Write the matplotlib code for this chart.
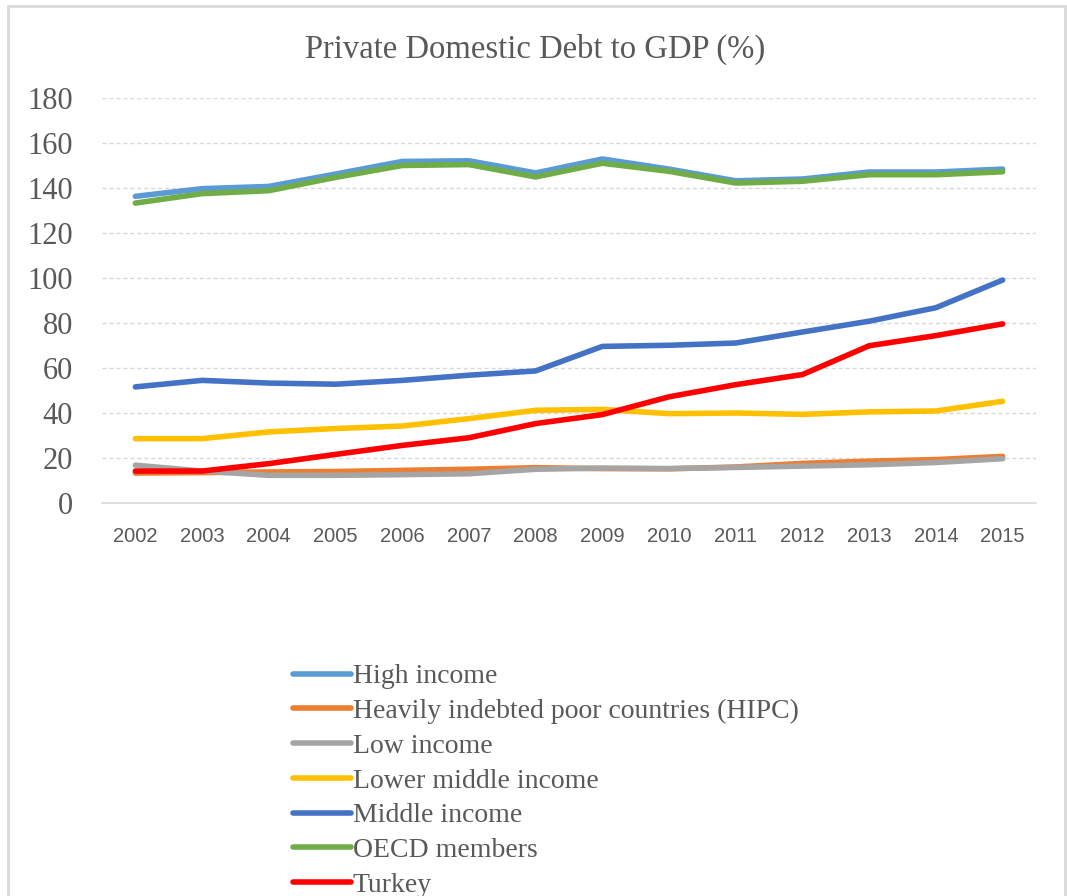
import matplotlib
matplotlib.use("Agg")
import matplotlib.pyplot as plt
import matplotlib.patches as mpatches

years = [str(y) for y in range(2002, 2016)]

high_income = [136.3, 139.7, 140.7, 146.2, 151.8, 152.1, 146.7, 152.9, 148.4, 143.2, 144.0, 147.1, 147.1, 148.4]
hipc        = [13.3, 13.5, 13.8, 14.0, 14.5, 15.0, 15.7, 15.3, 15.2, 16.0, 17.6, 18.6, 19.3, 20.7]
low_income  = [16.8, 14.2, 12.3, 12.3, 12.6, 13.0, 15.0, 15.5, 15.3, 15.8, 16.4, 17.0, 18.0, 19.7]
lower_mid   = [28.6, 28.6, 31.6, 33.1, 34.2, 37.5, 41.2, 41.6, 39.7, 40.0, 39.4, 40.5, 40.9, 45.2]
middle      = [51.6, 54.5, 53.3, 52.8, 54.5, 56.8, 58.7, 69.6, 70.1, 71.1, 76.0, 80.8, 86.8, 99.1]
oecd        = [133.3, 137.5, 138.8, 144.7, 150.0, 150.4, 144.9, 151.0, 147.4, 142.2, 143.0, 145.9, 145.9, 147.2]
turkey      = [14.2, 14.2, 17.5, 21.6, 25.6, 29.0, 35.3, 39.3, 47.2, 52.6, 57.1, 69.9, 74.4, 79.6]

series = [
    ("High income", high_income, "#5B9BD5"),
    ("Heavily indebted poor countries (HIPC)", hipc, "#ED7D31"),
    ("Low income", low_income, "#A5A5A5"),
    ("Lower middle income", lower_mid, "#FFC000"),
    ("Middle income", middle, "#4472C4"),
    ("OECD members", oecd, "#70AD47"),
    ("Turkey", turkey, "#FF0000"),
]

TXT = "#595959"
GRID = "#d9d9d9"
SERIF = "Liberation Serif"

W, H = 1067, 896
fig = plt.figure(figsize=(W / 100, H / 100), dpi=100)

# outer chart frame
fig.patches.append(mpatches.Rectangle((8 / W, -0.05), (1065 - 8) / W, 1.05 - 6 / H,
                                      transform=fig.transFigure, fill=False,
                                      edgecolor=GRID, linewidth=2))

ax = fig.add_axes([102 / W, 1 - 503 / H, (1036 - 102) / W, (503 - 98) / H])

x = list(range(len(years)))
for name, vals, col in series:
    ax.plot(x, vals, color=col, linewidth=4, label=name, solid_capstyle="round")

ax.set_xlim(-0.5, len(years) - 0.5)
ax.set_ylim(0, 180)
ax.set_yticks(range(0, 181, 20))
ax.set_xticks(x)
ax.set_xticklabels(years, fontfamily="Liberation Sans", fontsize=14.5, color=TXT)
for lab in ax.get_yticklabels():
    lab.set_fontfamily(SERIF)
    lab.set_fontsize(22)
    lab.set_color(TXT)
ax.tick_params(axis="y", length=0, pad=21)
ax.tick_params(axis="x", length=0, pad=17)

ax.grid(True, axis="y", color=GRID, linestyle=(0, (3, 2)), linewidth=1)
ax.set_axisbelow(True)
for s in ["top", "right", "left"]:
    ax.spines[s].set_visible(False)
ax.spines["bottom"].set_color(GRID)
ax.spines["bottom"].set_linewidth(1.2)

fig.text(535 / W, 1 - 49 / H, "Private Domestic Debt to GDP (%)", ha="center", va="center",
         fontfamily=SERIF, fontsize=23.5, color=TXT)

leg = fig.legend(loc="upper left", bbox_to_anchor=(293 / W, 1 - 664 / H),
                 frameon=False, prop={"family": SERIF, "size": 20},
                 handlelength=2.1, handletextpad=0.05, labelspacing=0.335,
                 borderpad=0, borderaxespad=0)
for t in leg.get_texts():
    t.set_color(TXT)
for l in leg.get_lines():
    l.set_linewidth(4)

fig.savefig("out.png", dpi=100)
